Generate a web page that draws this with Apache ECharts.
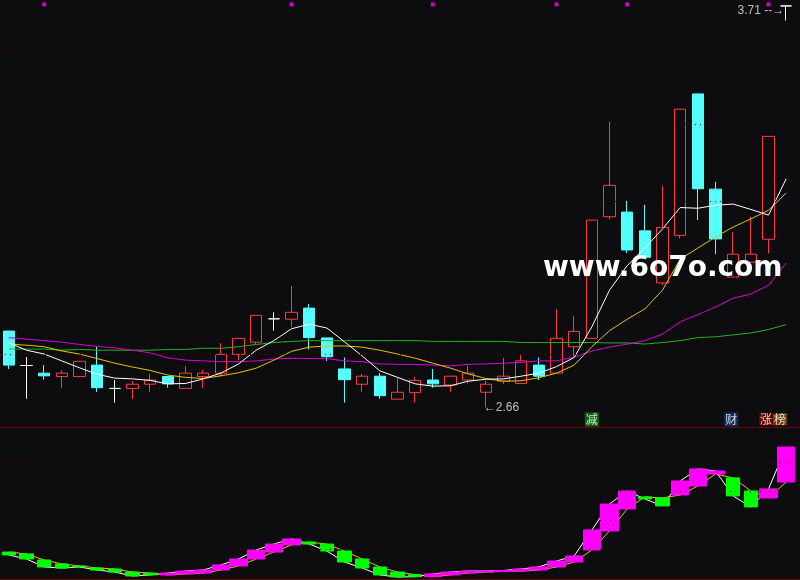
<!DOCTYPE html>
<html><head><meta charset="utf-8">
<script src="https://cdn.jsdelivr.net/npm/echarts/dist/echarts.min.js"></script>
<style>html,body{margin:0;padding:0;background:#0d0d10}#c{width:800px;height:580px}</style>
</head><body><div id="c"></div>
<script>
const days = Array.from({length:45},(_, i)=>'D'+(i+1));
const openP  = [2.860,2.770,2.750,2.741,2.741,2.771,2.710,2.710,2.721,2.741,2.710,2.741,2.750,2.799,2.831,2.892,2.891,2.920,2.842,2.761,2.721,2.742,2.682,2.699,2.732,2.719,2.732,2.700,2.729,2.723,2.771,2.750,2.819,2.841,3.159,3.171,3.122,2.986,3.110,3.480,3.231,3.001,3.040,3.100,3.710];
const closeP = [2.771,2.770,2.743,2.750,2.781,2.712,2.710,2.721,2.732,2.722,2.750,2.750,2.799,2.841,2.901,2.892,2.909,2.843,2.793,2.733,2.742,2.691,2.700,2.731,2.722,2.742,2.750,2.721,2.742,2.782,2.742,2.841,2.859,3.150,3.241,3.072,3.053,3.131,3.440,3.232,3.101,3.061,3.061,3.369,3.710];
const lowP   = [2.761,2.683,2.733,2.712,2.741,2.701,2.673,2.683,2.701,2.712,2.710,2.712,2.741,2.784,2.824,2.861,2.871,2.812,2.782,2.673,2.701,2.683,2.682,2.673,2.712,2.701,2.723,2.660,2.722,2.722,2.732,2.750,2.795,2.841,3.152,3.064,3.053,2.980,3.102,3.150,3.061,3.001,3.040,3.063,3.672];
const highP  = [2.860,2.792,2.771,2.758,2.781,2.819,2.732,2.729,2.748,2.741,2.768,2.758,2.828,2.841,2.901,2.909,2.978,2.931,2.842,2.791,2.748,2.750,2.738,2.739,2.761,2.742,2.769,2.730,2.790,2.797,2.791,2.918,2.899,3.150,3.407,3.200,3.190,3.239,3.440,3.480,3.250,3.118,3.159,3.369,3.710];
const ma5  = [2.829,2.810,2.800,2.782,2.764,2.747,2.737,2.735,2.731,2.722,2.723,2.735,2.750,2.774,2.810,2.835,2.866,2.878,2.868,2.832,2.795,2.756,2.739,2.722,2.716,2.717,2.729,2.734,2.735,2.742,2.750,2.767,2.791,2.871,2.967,3.031,3.077,3.127,3.183,3.181,3.189,3.192,3.178,3.163,3.258];
const ma10 = [2.826,2.823,2.819,2.808,2.800,2.788,2.776,2.766,2.757,2.745,2.739,2.736,2.743,2.751,2.763,2.784,2.807,2.818,2.821,2.821,2.818,2.810,2.800,2.789,2.776,2.763,2.748,2.736,2.729,2.730,2.738,2.750,2.771,2.819,2.861,2.891,2.918,2.967,3.048,3.077,3.106,3.132,3.153,3.176,3.221];
const ma20 = [2.843,2.839,2.835,2.831,2.825,2.820,2.816,2.810,2.803,2.790,2.784,2.782,2.780,2.780,2.782,2.787,2.789,2.788,2.788,2.782,2.780,2.774,2.773,2.773,2.771,2.769,2.773,2.774,2.776,2.778,2.782,2.782,2.792,2.808,2.818,2.826,2.835,2.852,2.884,2.903,2.923,2.946,2.957,2.980,3.038];
const ma60 = [2.813,2.813,2.813,2.810,2.812,2.810,2.810,2.810,2.810,2.812,2.812,2.815,2.815,2.819,2.825,2.830,2.833,2.835,2.835,2.835,2.835,2.835,2.835,2.835,2.833,2.833,2.833,2.833,2.833,2.830,2.830,2.830,2.830,2.830,2.829,2.829,2.826,2.830,2.835,2.843,2.845,2.850,2.855,2.864,2.877];
const indW = [15.9,13.1,7.6,6.9,7.6,5.5,4.1,1.4,2.1,3.4,4.8,5.5,9.0,13.1,19.3,23.4,26.9,23.4,18.6,11.0,6.9,2.1,0.7,0.9,2.8,4.1,4.8,4.8,5.2,6.2,7.6,11.7,15.2,33.1,51.0,60.0,54.5,49.7,66.9,75.2,73.8,56.6,49.0,61.4,90.3];
const indY = [17.9,16.6,12.4,9.7,8.3,6.9,6.2,4.1,3.4,2.1,2.8,3.4,5.5,8.3,13.1,17.9,22.8,24.8,23.4,18.6,13.1,7.6,4.1,2.3,0.9,2.1,3.4,4.1,4.5,4.8,5.5,7.6,11.0,19.3,32.4,47.6,55.9,55.2,57.2,63.4,71.7,69.0,60.0,55.2,66.2];
const markerDays = [2,16,24,31,35,43];
const markerLevel = 3.714;
const tagLevel = 2.629;
const priceGrid = [2.8,3.0,3.2,3.4,3.6];
const indGrid = [20,40,60,80];

const RED='#ff3b3b', CYAN='#54ffff', BG='#0d0d10';
const candleData = days.map((d,i)=>{
  const v=[openP[i],closeP[i],lowP[i],highP[i]];
  if(openP[i]===closeP[i]) return {value:v,itemStyle:{color:'#fff',color0:'#fff',borderColor:'#fff',borderColor0:'#fff',borderColorDoji:'#fff'}};
  return v;
});
const hiIdx = highP.indexOf(Math.max(...highP));
const loIdx = lowP.indexOf(Math.min(...lowP));
const upBox = days.map((d,i)=> indW[i]>=indY[i] ? [indY[i],indW[i],indY[i],indW[i]] : '-');
const dnBox = days.map((d,i)=> indW[i]<indY[i] ? [indY[i],indW[i],indW[i],indY[i]] : '-');
const dotted = {color:'#560606', type:[1,4], width:1};
const tagStyle = (bg)=>({color:'#fff',backgroundColor:bg,fontSize:12,lineHeight:14,padding:[0,1,0,1],fontFamily:'Noto Sans CJK SC'});

const chart = echarts.init(document.getElementById('c'));
chart.setOption({
  backgroundColor: BG,
  animation:false,
  grid:[{left:-2,width:797,top:0,height:427},{left:-2,width:797,top:427,height:152}],
  xAxis:[
    {type:'category',data:days,gridIndex:0,show:false},
    {type:'category',data:days,gridIndex:1,show:false}
  ],
  yAxis:[
    {type:'value',gridIndex:0,min:2.6092,max:3.7255,show:false,splitLine:{show:false}},
    {type:'value',gridIndex:1,min:-0.69,max:104.1,show:false,splitLine:{show:false}}
  ],
  graphic:[
    {type:'line',shape:{x1:0,y1:427.5,x2:800,y2:427.5},style:{stroke:'#6e0000',lineWidth:1},z:1},
    {type:'line',shape:{x1:0,y1:579.5,x2:800,y2:579.5},style:{stroke:'#6e0000',lineWidth:1},z:1},
    {type:'text',left:543,top:255,style:{text:'www.6o7o.com',fill:'#ffffff',font:'bold 28px "DejaVu Sans"'},z:100}
  ],
  series:[
    {type:'candlestick',xAxisIndex:0,yAxisIndex:0,barWidth:12,data:candleData,z:2,
     itemStyle:{color:BG,color0:CYAN,borderColor:RED,borderColor0:CYAN,borderColorDoji:'#fff',borderWidth:1},
     markLine:{silent:true,symbol:'none',label:{show:false},lineStyle:dotted,data:priceGrid.map(v=>({yAxis:v}))}},
    {type:'line',data:ma60,xAxisIndex:0,yAxisIndex:0,symbol:'none',lineStyle:{color:'#1fb41f',width:1},z:3},
    {type:'line',data:ma20,xAxisIndex:0,yAxisIndex:0,symbol:'none',lineStyle:{color:'#d800d8',width:1},z:3},
    {type:'line',data:ma10,xAxisIndex:0,yAxisIndex:0,symbol:'none',lineStyle:{color:'#e6c200',width:1},z:3},
    {type:'line',data:ma5,xAxisIndex:0,yAxisIndex:0,symbol:'none',lineStyle:{color:'#ffffff',width:1},z:3},
    {type:'scatter',xAxisIndex:0,yAxisIndex:0,symbol:'rect',symbolSize:4,itemStyle:{color:'#ff00ff'},z:4,
     data:markerDays.map(i=>[i,markerLevel])},
    {type:'scatter',xAxisIndex:0,yAxisIndex:0,symbolSize:0,z:5,silent:true,
     data:[
       {value:[hiIdx,highP[hiIdx]],label:{show:true,position:'left',distance:2,offset:[0,5],formatter:highP[hiIdx].toFixed(2)+' --→',color:'#e8e8e8',fontSize:12,fontFamily:'Liberation Sans'}},
       {value:[loIdx,lowP[loIdx]],label:{show:true,position:'right',distance:0,offset:[-2,0],formatter:'←'+lowP[loIdx].toFixed(2),color:'#e8e8e8',fontSize:12,fontFamily:'Liberation Sans'}},
       {value:[33,tagLevel],label:Object.assign({show:true,position:'inside',formatter:'减'},tagStyle('#0a7a14'))},
       {value:[41,tagLevel],label:Object.assign({show:true,position:'inside',offset:[-2,0],formatter:'财'},tagStyle('#0b3668'))},
       {value:[43,tagLevel],label:{show:true,position:'inside',offset:[4.5,0],formatter:'{a|涨}{b|榜}',
         rich:{a:tagStyle('#7a0000'),b:tagStyle('#8a4a12')}}}
     ]},
    {type:'line',data:indY,xAxisIndex:1,yAxisIndex:1,symbol:'none',lineStyle:{color:'#e6c200',width:1},z:2,
     markLine:{silent:true,symbol:'none',label:{show:false},lineStyle:dotted,data:indGrid.map(v=>({yAxis:v}))}},
    {type:'line',data:indW,xAxisIndex:1,yAxisIndex:1,symbol:'none',lineStyle:{color:'#ffffff',width:1},z:2},
    {type:'candlestick',xAxisIndex:1,yAxisIndex:1,barWidth:18,data:upBox,z:4,
     itemStyle:{color:'#ff00ff',color0:'#ff00ff',borderColor:'#ff00ff',borderColor0:'#ff00ff',borderColorDoji:'#ff00ff',borderWidth:1}},
    {type:'candlestick',xAxisIndex:1,yAxisIndex:1,barWidth:14,data:dnBox,z:4,
     itemStyle:{color:'#00ff00',color0:'#00ff00',borderColor:'#00ff00',borderColor0:'#00ff00',borderColorDoji:'#00ff00',borderWidth:1}}
  ]
});
</script></body></html>
